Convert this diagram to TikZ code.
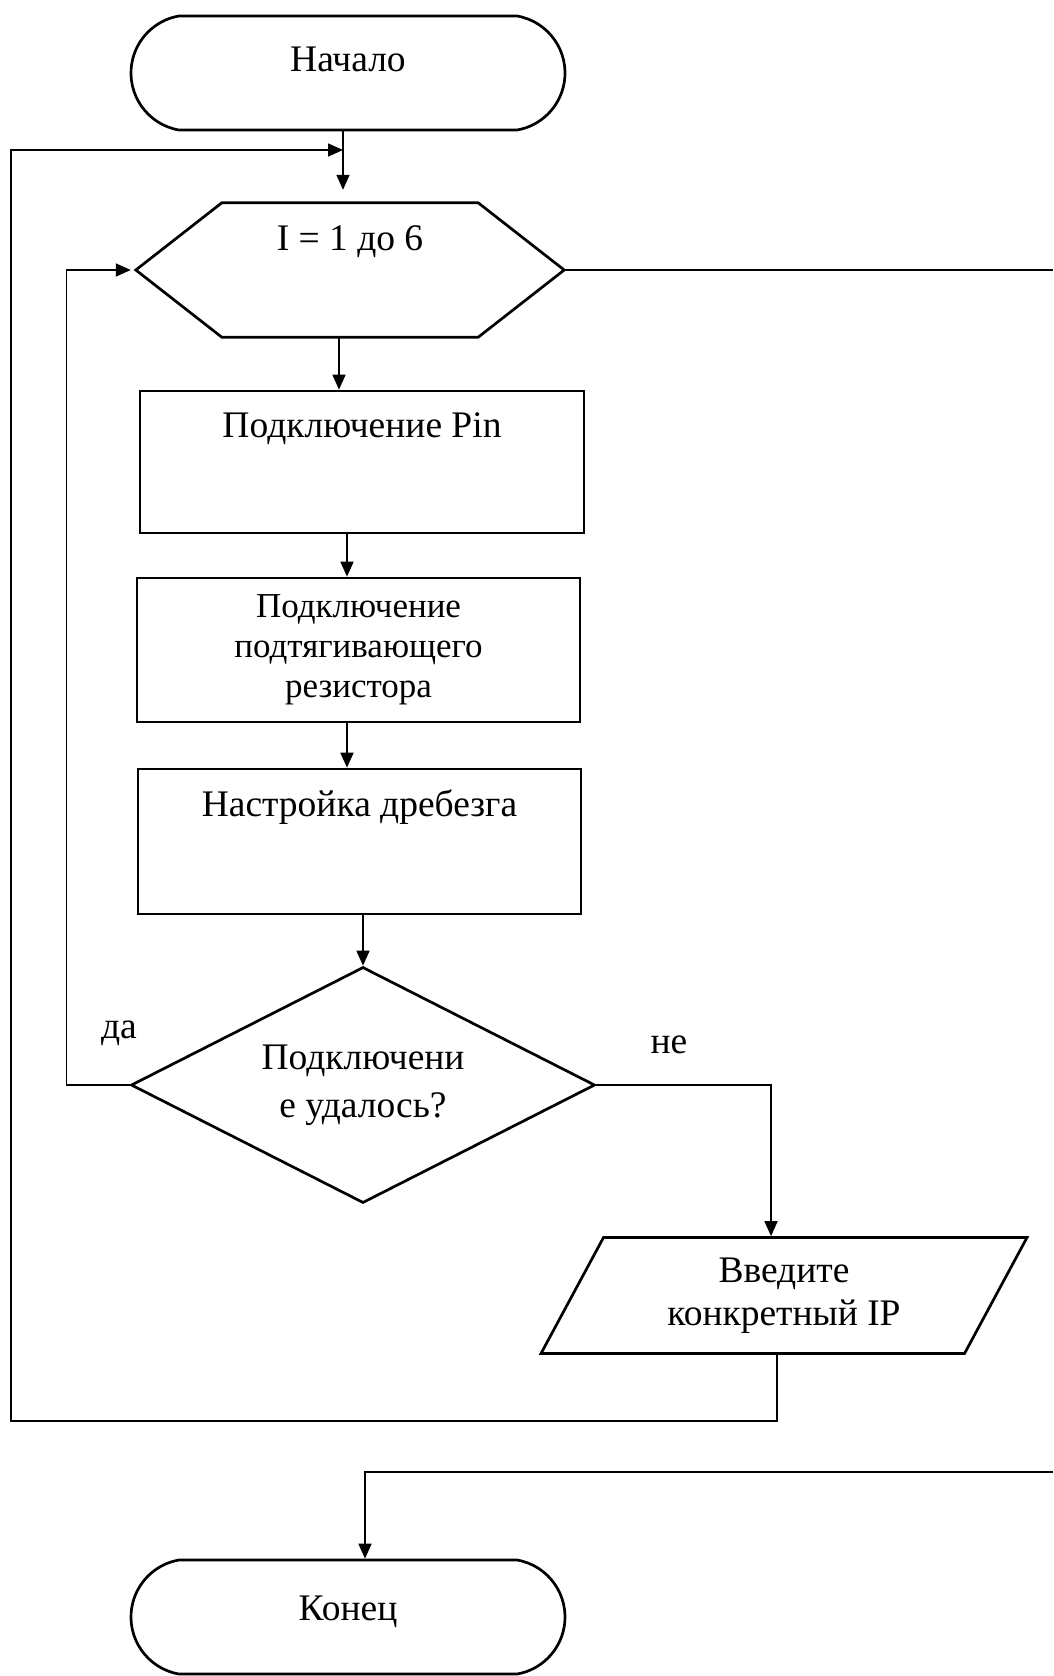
\documentclass[tikz,border=0pt]{standalone}
\usepackage{fontspec}
\setmainfont{Liberation Serif}
\usetikzlibrary{shapes.misc,shapes.geometric,arrows.meta}

\tikzset{
  every node/.style={font=\fontsize{37.5}{43}\selectfont},
  base/.style={draw, line width=2.7pt, inner sep=0pt, align=center},
  term/.style={base, rounded rectangle, rounded rectangle arc length=160, minimum width=434pt, minimum height=114pt},
  procbox/.style={base, rectangle, minimum width=443pt, minimum height=144pt},
  toptext/.style={text height=24pt, text depth=#1},
  wire/.style={line width=1.6pt},
  arr/.style={wire, -{Triangle[length=15pt,width=13pt]}}
}

\begin{document}
\begin{tikzpicture}[x=1pt,y=-1pt]

\useasboundingbox (0,0) rectangle (1053,1676);

\node[term, toptext=27pt] (start) at (348,73) {Начало};

\node[inner sep=0pt, minimum width=428pt, minimum height=134pt, toptext=64pt] (hex) at (350,270) {I = 1 до 6};
\draw[line width=2.7pt] (hex.west) -- ([xshift=86pt]hex.north west) -- ([xshift=-86pt]hex.north east)
  -- (hex.east) -- ([xshift=-86pt]hex.south east) -- ([xshift=86pt]hex.south west) -- cycle;

\node[procbox, minimum width=444pt, minimum height=142pt, toptext=74pt] (pin) at (362,462) {Подключение Pin};
\node[procbox, font=\fontsize{35}{40}\selectfont] (pullup) at (358.5,650) {Подключение\\подтягивающего\\резистора};
\node[procbox, minimum height=145pt, toptext=75pt] (debounce) at (359.5,841.5) {Настройка дребезга};

\node[base, diamond, aspect=2, minimum width=464pt, minimum height=236pt,
  font=\fontsize{37.5}{48}\selectfont] (check) at (363,1085) {Подключени\\е удалось?};

\node[base, trapezium, trapezium left angle=50.4, trapezium right angle=129.6, trapezium stretches body,
  minimum width=486pt, minimum height=116pt] (ip) at (784,1295.5) {Введите\\конкретный IP};

\node[term, toptext=18pt] (stop) at (348,1617) {Конец};

\node (yes) at (119,1033) {да};
\node (no) at (669,1045) {не};

\coordinate (entry) at (343,150);
\coordinate (retL) at (11,1421);
\coordinate (exitR) at (1053,270);
\coordinate (exitB) at (1053,1472);

\draw[arr] ([xshift=-5pt]start.south) -- ([xshift=-7pt,yshift=13pt]hex.north);
\draw[arr] ([xshift=-7pt]ip.south) |- (retL) |- (entry);
\draw[wire] (hex.east) -- (exitR);

\draw[arr] ([xshift=-11pt]hex.south) -- ([xshift=-11pt]hex.south |- pin.north);
\draw[arr] ([xshift=-15pt]pin.south) -- ([xshift=-15pt]pin.south |- pullup.north);
\draw[arr] ([xshift=-11.5pt]pullup.south) -- ([xshift=-11.5pt]pullup.south |- debounce.north);
\draw[arr] (check.north |- debounce.south) -- (check.north);

\draw[arr] (check.west) -- ++(-63,0) |- ([xshift=-5pt]hex.west);
\draw[arr] (check.east) -| ([xshift=-13pt]ip.north);

\draw[arr] (exitB) -| ([xshift=17pt]stop.north);

\end{tikzpicture}
\end{document}
